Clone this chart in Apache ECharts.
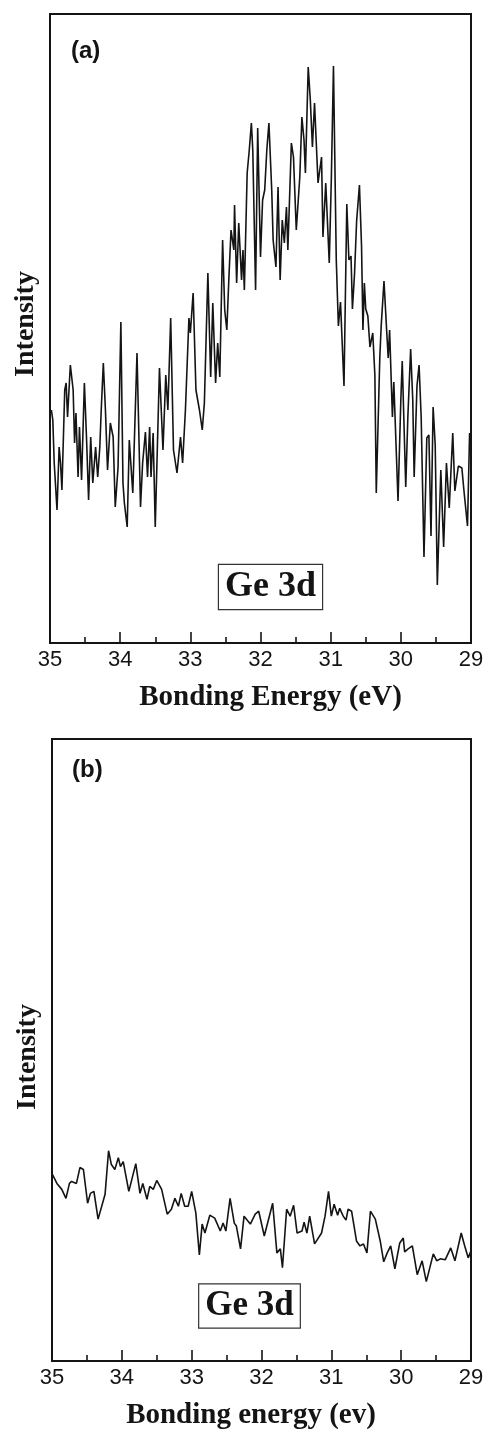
<!DOCTYPE html>
<html>
<head>
<meta charset="utf-8">
<script src="https://cdn.jsdelivr.net/npm/echarts@6/dist/echarts.min.js"></script>
<style>
  html, body { margin: 0; padding: 0; background: #fff; }
  #chart { width: 491px; height: 1431px; }
</style>
</head>
<body>
<div id="chart"></div>
<script>
// XPS Ge 3d spectra: (a) clear peak, (b) flat background.
// Binding energy in eV, intensity in arbitrary units.

const energyA = [
  34.98, 34.96, 34.94, 34.90, 34.87, 34.85, 34.83, 34.79, 34.77, 34.75,
  34.71, 34.67, 34.65, 34.63, 34.60, 34.58, 34.55, 34.51, 34.48, 34.45,
  34.42, 34.39, 34.35, 34.32, 34.29, 34.27, 34.24, 34.21, 34.18, 34.14,
  34.10, 34.07, 34.03, 33.99, 33.96, 33.94, 33.90, 33.87, 33.82, 33.76,
  33.71, 33.68, 33.64, 33.61, 33.58, 33.56, 33.53, 33.50, 33.44, 33.39,
  33.35, 33.32, 33.28, 33.24, 33.19, 33.14, 33.11, 33.07, 33.02, 33.00,
  32.96, 32.92, 32.87, 32.83, 32.80, 32.75, 32.71, 32.68, 32.64, 32.61,
  32.58, 32.54, 32.51, 32.48, 32.45, 32.42, 32.38, 32.37, 32.34, 32.31,
  32.27, 32.25, 32.23, 32.19, 32.16, 32.13, 32.11, 32.07, 32.04, 32.00,
  31.97, 31.94, 31.91, 31.88, 31.84, 31.82, 31.78, 31.75, 31.72, 31.69,
  31.66, 31.63, 31.61, 31.56, 31.53, 31.49, 31.44, 31.41, 31.38, 31.36,
  31.32, 31.29, 31.26, 31.23, 31.18, 31.13, 31.11, 31.07, 31.02, 30.99,
  30.96, 30.92, 30.89, 30.86, 30.81, 30.77, 30.74, 30.71, 30.69, 30.66,
  30.63, 30.59, 30.56, 30.54, 30.52, 30.50, 30.47, 30.44, 30.40, 30.37,
  30.35, 30.30, 30.28, 30.24, 30.20, 30.18, 30.16, 30.12, 30.10, 30.04,
  30.00, 29.98, 29.93, 29.90, 29.86, 29.83, 29.81, 29.77, 29.74, 29.71,
  29.67, 29.63, 29.60, 29.57, 29.54, 29.51, 29.48, 29.43, 29.39, 29.35,
  29.31, 29.26, 29.23, 29.18, 29.13, 29.10, 29.05, 29.02
];
const intensityA = [
  233, 223, 180, 133, 196, 180, 153, 253, 260, 226,
  278, 253, 200, 230, 166, 216, 163, 260, 206, 143,
  206, 160, 196, 166, 196, 233, 280, 233, 173, 220,
  206, 136, 176, 321, 160, 140, 116, 203, 150, 290,
  136, 180, 211, 166, 216, 166, 210, 116, 275, 193,
  268, 233, 325, 193, 170, 206, 180, 233, 325, 310,
  350, 253, 233, 213, 240, 370, 266, 340, 260, 300,
  266, 403, 333, 313, 366, 413, 393, 438, 360, 420,
  363, 393, 353, 470, 493, 520, 493, 353, 515, 386,
  443, 453, 493, 520, 453, 403, 376, 456, 363, 423,
  400, 436, 393, 500, 486, 413, 466, 526, 503, 470,
  576, 543, 496, 540, 460, 486, 406, 460, 380, 466,
  577, 383, 317, 341, 257, 439, 383, 387, 334, 369,
  422, 458, 397, 313, 360, 334, 327, 296, 310, 268,
  150, 285, 317, 362, 310, 285, 313, 226, 261, 142,
  243, 282, 156, 226, 294, 243, 166, 257, 278, 226,
  86, 205, 208, 107, 236, 198, 58, 173, 96, 180,
  135, 210, 152, 177, 175, 152, 117, 210
];

const energyB = [
  35.00, 34.93, 34.86, 34.80, 34.75, 34.72, 34.65, 34.60, 34.55, 34.49,
  34.45, 34.40, 34.34, 34.24, 34.19, 34.15, 34.10, 34.05, 34.02, 33.98,
  33.90, 33.80, 33.74, 33.70, 33.64, 33.60, 33.55, 33.50, 33.43, 33.35,
  33.29, 33.24, 33.19, 33.15, 33.10, 33.05, 33.00, 32.94, 32.89, 32.85,
  32.81, 32.74, 32.67, 32.59, 32.55, 32.51, 32.45, 32.39, 32.36, 32.30,
  32.25, 32.16, 32.09, 32.04, 31.96, 31.84, 31.78, 31.73, 31.70, 31.64,
  31.59, 31.54, 31.49, 31.42, 31.39, 31.35, 31.31, 31.24, 31.14, 31.09,
  31.04, 31.00, 30.96, 30.91, 30.88, 30.83, 30.79, 30.76, 30.71, 30.64,
  30.59, 30.54, 30.49, 30.44, 30.37, 30.30, 30.25, 30.20, 30.15, 30.09,
  30.02, 29.97, 29.95, 29.90, 29.84, 29.77, 29.70, 29.64, 29.54, 29.49,
  29.44, 29.37, 29.29, 29.23, 29.14, 29.09, 29.04, 29.00
];
const intensityB = [
  189, 179, 173, 164, 179, 181, 179, 195, 193, 159,
  169, 171, 143, 168, 212, 198, 193, 205, 196, 201,
  171, 199, 169, 179, 163, 176, 173, 182, 173, 148,
  153, 164, 156, 169, 156, 156, 171, 149, 107, 138,
  129, 147, 144, 131, 139, 131, 164, 139, 136, 113,
  146, 138, 148, 151, 126, 159, 109, 113, 94, 153,
  146, 157, 129, 131, 140, 129, 146, 118, 129, 146,
  171, 146, 158, 147, 154, 146, 142, 153, 151, 121,
  116, 118, 109, 151, 143, 121, 100, 109, 116, 93,
  119, 124, 110, 113, 116, 87, 101, 80, 108, 101,
  103, 102, 114, 101, 129, 116, 104, 111
];

const tickFont = 'Liberation Sans, Arial, sans-serif';
const serifFont = 'Liberation Serif, Times New Roman, serif';
const ink = '#141414';

function pairs(xs, ys) {
  return xs.map((x, i) => [x, ys[i]]);
}

function energyAxis(gridIndex, name, namePad) {
  return {
    gridIndex,
    type: 'value',
    min: 29,
    max: 35,
    interval: 1,
    inverse: true,
    name,
    nameLocation: 'middle',
    nameGap: 40,
    nameTextStyle: {
      fontFamily: serifFont, fontWeight: 'bold', fontSize: 29, color: ink,
      padding: namePad
    },
    axisLine: { show: false },
    axisTick: { show: true, inside: true, length: 11, lineStyle: { color: ink, width: 1.6 } },
    minorTick: { show: true, splitNumber: 2, length: 6, lineStyle: { color: ink, width: 1.6 } },
    splitLine: { show: false },
    minorSplitLine: { show: false },
    axisLabel: { fontFamily: tickFont, fontSize: 22, color: ink, margin: 6 }
  };
}

function intensityAxis(gridIndex, max, namePad) {
  return {
    gridIndex,
    type: 'value',
    min: 0,
    max,
    name: 'Intensity',
    nameLocation: 'middle',
    nameGap: 10,
    nameRotate: 90,
    nameTextStyle: { fontFamily: serifFont, fontWeight: 'bold', fontSize: 28, color: ink, padding: namePad },
    axisLine: { show: false },
    axisTick: { show: false },
    axisLabel: { show: false },
    splitLine: { show: false }
  };
}

function boxedLabel(text, cx, cy, size, padV, padH) {
  return {
    type: 'text',
    x: cx,
    y: cy,
    style: {
      text,
      font: 'bold ' + size + 'px ' + serifFont,
      fill: ink,
      align: 'center',
      verticalAlign: 'middle',
      borderColor: '#333',
      borderWidth: 1.2,
      padding: [padV, padH, padV, padH],
      backgroundColor: '#fff'
    },
    z: 10
  };
}

function panelTag(text, x, cy) {
  return {
    type: 'text',
    x,
    y: cy,
    style: {
      text,
      font: 'bold 24px ' + tickFont,
      fill: ink,
      align: 'left',
      verticalAlign: 'middle'
    },
    z: 10
  };
}

const chart = echarts.init(document.getElementById('chart'), null, { renderer: 'canvas' });

chart.setOption({
  backgroundColor: '#fff',
  animation: false,
  grid: [
    { left: 50, top: 14, width: 421, height: 629, show: true, borderColor: ink, borderWidth: 2, backgroundColor: 'transparent' },
    { left: 52, top: 739, width: 419, height: 627, show: true, borderColor: ink, borderWidth: 2, backgroundColor: 'transparent' }
  ],
  xAxis: [
    energyAxis(0, 'Bonding Energy (eV)', [0, 0, 0, 20]),
    energyAxis(1, 'Bonding energy (ev)', [0, 21, 0, 0])
  ],
  yAxis: [
    intensityAxis(0, 629, [0, 0, 0, 9]),
    intensityAxis(1, 627, [0, 14, 0, 0])
  ],
  series: [
    {
      type: 'line', xAxisIndex: 0, yAxisIndex: 0,
      data: pairs(energyA, intensityA),
      showSymbol: false, smooth: false,
      lineStyle: { color: ink, width: 1.6 }
    },
    {
      type: 'line', xAxisIndex: 1, yAxisIndex: 1,
      data: pairs(energyB, intensityB),
      showSymbol: false, smooth: false,
      lineStyle: { color: ink, width: 1.6 }
    }
  ],
  graphic: [
    panelTag('(a)', 71, 51),
    panelTag('(b)', 72, 770),
    boxedLabel('Ge 3d', 270.5, 587, 36, 4, 6),
    boxedLabel('Ge 3d', 249.5, 1306, 35, 4, 6)
  ]
});
</script>
</body>
</html>
